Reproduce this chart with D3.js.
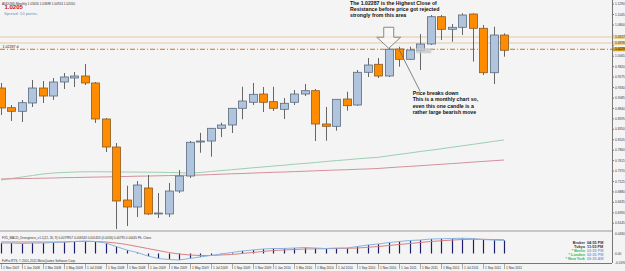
<!DOCTYPE html>
<html><head><meta charset="utf-8">
<script src="https://cdn.jsdelivr.net/npm/d3@7"></script>
<style>
html,body{margin:0;padding:0;background:#f4f4f4;}
svg{display:block;}
text{font-family:"Liberation Sans",Arial,sans-serif;}
</style></head><body>
<svg id="c" width="625" height="271"></svg>
<script>
const months = ["Nov 2007","Dec 2007","Jan 2008","Feb 2008","Mar 2008","Apr 2008","May 2008","Jun 2008","Jul 2008","Aug 2008","Sep 2008","Oct 2008","Nov 2008","Dec 2008",
"Jan 2009","Feb 2009","Mar 2009","Apr 2009","May 2009","Jun 2009","Jul 2009","Aug 2009","Sep 2009","Oct 2009","Nov 2009","Dec 2009",
"Jan 2010","Feb 2010","Mar 2010","Apr 2010","May 2010","Jun 2010","Jul 2010","Aug 2010","Sep 2010","Oct 2010","Nov 2010","Dec 2010",
"Jan 2011","Feb 2011","Mar 2011","Apr 2011","May 2011","Jun 2011","Jul 2011","Aug 2011","Sep 2011","Oct 2011","Nov 2011"];
const openP  = [0.9319,0.8857,0.8772,0.8967,0.9319,0.9131,0.9460,0.9554,0.9601,0.9437,0.8592,0.7934,0.6690,0.6526,0.6972,0.6362,0.6362,0.6901,0.7253,0.8052,0.8075,0.8373,0.8451,0.8843,0.8984,0.9178,0.8998,0.8819,0.8984,0.9178,0.9256,0.8474,0.8420,0.9061,0.8920,0.9688,0.9876,0.9601,1.0235,0.9993,1.0195,1.0352,1.0993,1.0697,1.0744,1.1056,1.0721,0.9678,1.0563];
const highP  = [0.9437,0.8920,0.9038,0.9507,0.9484,0.9554,0.9671,0.9695,0.9883,0.9460,0.8615,0.8028,0.7024,0.7136,0.7277,0.6854,0.7089,0.7394,0.8075,0.8266,0.8380,0.8505,0.8850,0.9350,0.9437,0.9343,0.9350,0.9085,0.9272,0.9413,0.9296,0.8873,0.9061,0.9232,0.9742,1.0023,1.0023,1.0258,1.0289,1.0289,1.0587,1.1033,1.1033,1.0822,1.1073,1.1073,1.0798,1.0758,1.0603];
const lowP   = [0.8685,0.8545,0.8521,0.8873,0.8967,0.9038,0.9296,0.9343,0.9390,0.8498,0.7817,0.6008,0.6080,0.6291,0.6340,0.6268,0.6291,0.6854,0.7207,0.7800,0.7707,0.8167,0.8263,0.8585,0.8920,0.8756,0.8779,0.8592,0.8920,0.9131,0.8075,0.8082,0.8317,0.8787,0.8900,0.9578,0.9554,0.9578,0.9819,0.9977,0.9742,1.0329,1.0446,1.0406,1.0563,0.9937,0.9624,0.9413,1.0054];
const closeP = [0.8850,0.8772,0.8974,0.9319,0.9131,0.9460,0.9578,0.9601,0.9437,0.8592,0.7934,0.6667,0.6526,0.7042,0.6362,0.6385,0.6901,0.7253,0.8045,0.8075,0.8373,0.8451,0.8843,0.9014,0.9171,0.8984,0.8843,0.8960,0.9178,0.9256,0.8474,0.8420,0.9054,0.8904,0.9688,0.9859,0.9601,1.0229,0.9993,1.0211,1.0352,1.0993,1.0697,1.0744,1.1033,1.0721,0.9678,1.0563,1.0205];
const maGreen = [0.7160,0.7195,0.7230,0.7265,0.7300,0.7324,0.7336,0.7347,0.7352,0.7354,0.7352,0.7350,0.7347,0.7345,0.7343,0.7341,0.7336,0.7331,0.7324,0.7336,0.7359,0.7380,0.7401,0.7423,0.7446,0.7465,0.7488,0.7507,0.7531,0.7549,0.7570,0.7594,0.7615,0.7634,0.7657,0.7676,0.7692,0.7728,0.7761,0.7793,0.7829,0.7859,0.7892,0.7927,0.7962,0.7995,0.8031,0.8066,0.8099];
const maRed = [0.7183,0.7188,0.7193,0.7197,0.7202,0.7207,0.7214,0.7218,0.7223,0.7228,0.7232,0.7237,0.7242,0.7249,0.7253,0.7258,0.7263,0.7268,0.7272,0.7277,0.7286,0.7296,0.7305,0.7312,0.7322,0.7331,0.7341,0.7347,0.7357,0.7366,0.7376,0.7385,0.7394,0.7401,0.7411,0.7420,0.7430,0.7448,0.7465,0.7479,0.7495,0.7512,0.7528,0.7545,0.7561,0.7580,0.7596,0.7613,0.7629];
const macdMain = [0.0210,0.0210,0.0200,0.0210,0.0210,0.0220,0.0230,0.0240,0.0250,0.0240,0.0210,0.0140,0.0070,0.0020,-0.0050,-0.0100,-0.0120,-0.0130,-0.0100,-0.0070,-0.0040,-0.0010,0.0020,0.0050,0.0070,0.0090,0.0100,0.0100,0.0110,0.0120,0.0110,0.0100,0.0110,0.0110,0.0140,0.0170,0.0190,0.0220,0.0240,0.0260,0.0270,0.0290,0.0295,0.0300,0.0305,0.0300,0.0280,0.0270,0.0260];
const macdSignal = [0.0230,0.0230,0.0230,0.0230,0.0230,0.0230,0.0230,0.0240,0.0240,0.0240,0.0230,0.0210,0.0180,0.0140,0.0100,0.0060,0.0020,-0.0010,-0.0030,-0.0040,-0.0040,-0.0030,-0.0020,0.0000,0.0020,0.0040,0.0060,0.0070,0.0080,0.0090,0.0094,0.0096,0.0100,0.0104,0.0110,0.0124,0.0140,0.0160,0.0180,0.0200,0.0220,0.0240,0.0255,0.0268,0.0280,0.0285,0.0284,0.0280,0.0275];
const priceTicks = [1.1290,1.1045,1.0800,1.0555,1.0310,1.0065,0.9820,0.9575,0.9330,0.9085,0.8840,0.8595,0.8350,0.8105,0.7860,0.7615,0.7370,0.7125,0.6880,0.6635,0.6390,0.6145];
const levelLines = [1.0517,1.0376];
const resistance = 1.02287;
const macdTicks = [0.0430,0.0000,-0.0190];
const clockRows = [["Broker","04:55 PM"],["Tokyo","11:55 PM"],["* Berlin","03:55 PM"],["* London","02:55 PM"],["* New York","09:55 AM"]];

const svg = d3.select("#c");
const W=625, axisX=612, mainBottom=230, macdTop=232, macdBottom=263;
svg.append("rect").attr("width",W).attr("height",271).attr("fill","#f4f4f4");

const x = d3.scalePoint().domain(months).range([1,504]);
const y = d3.scaleLinear().domain([0.5986,1.1385]).range([mainBottom,0]);
const ym = d3.scaleLinear().domain([-0.019,0.043]).range([macdBottom,macdTop]);

const main = svg.append("g");
levelLines.forEach(v=>{
  main.append("line").attr("x1",0).attr("x2",axisX).attr("y1",y(v)).attr("y2",y(v)).attr("stroke","#e2c9a2").attr("stroke-width",1);
});
main.append("line").attr("x1",0).attr("x2",axisX).attr("y1",y(resistance)).attr("y2",y(resistance))
  .attr("stroke","#c07a1a").attr("stroke-width",1.2).attr("stroke-dasharray","5,2,1,2");

const ln = arr => d3.line().x((d,i)=>x(months[i])).y(d=>y(d))(arr);
main.append("path").attr("d",ln(maGreen)).attr("fill","none").attr("stroke","#9ccfb2").attr("stroke-width",1);
main.append("path").attr("d",ln(maRed)).attr("fill","none").attr("stroke","#d4909c").attr("stroke-width",1);

const cg = main.append("g");
months.forEach((m,i)=>{
  const cx = Math.round(x(m))+0.5;
  cg.append("line").attr("x1",cx).attr("x2",cx).attr("y1",y(highP[i])).attr("y2",Math.min(y(lowP[i]),mainBottom)).attr("stroke","#666").attr("stroke-width",1);
  const top = y(Math.max(openP[i],closeP[i])), bot = y(Math.min(openP[i],closeP[i]));
  const up = closeP[i]>=openP[i];
  cg.append("rect").attr("x",cx-4).attr("y",top).attr("width",8).attr("height",Math.max(bot-top,1))
    .attr("fill",up?"#b0c4de":"#ff8c00").attr("stroke",up?"#5b6a7e":"#8a5a20").attr("stroke-width",0.8);
});

main.append("rect").attr("x",x("Mar 2011")-4).attr("y",y(resistance)-1).attr("width",15).attr("height",5).attr("fill","#c8c8c8").attr("opacity",0.8);

const tx = x("Dec 2010"), ty = y(resistance)-1;
const arrowPts = [[tx-5,ty-21],[tx+5,ty-21],[tx+5,ty-11],[tx+12,ty-11],[tx,ty],[tx-12,ty-11],[tx-5,ty-11]];
main.append("polygon").attr("points",arrowPts.map(p=>p.join(",")).join(" ")).attr("fill","#f8f8f8").attr("fill-opacity",0.6).attr("stroke","#8a8a8a").attr("stroke-width",1);

const ann1 = ["The 1.02287 is the Highest Close of","Resistance before price got rejected","strongly from this area"];
ann1.forEach((t,i)=>svg.append("text").attr("x",350).attr("y",5.2+i*6).text(t).attr("font-size",5.2).attr("font-weight","bold").attr("fill","#111"));
main.append("line").attr("x1",x("Jan 2011")).attr("y1",y(openP[38])+1).attr("x2",420).attr("y2",91).attr("stroke","#666").attr("stroke-width",0.8);
const ann2 = ["Price breaks down","This is a monthly chart so,","even this one candle is a","rather large bearish move"];
ann2.forEach((t,i)=>svg.append("text").attr("x",412.7).attr("y",95.3+i*6.1).text(t).attr("font-size",5.2).attr("font-weight","bold").attr("fill","#111"));

svg.append("text").attr("x",2).attr("y",4.5).text("AUDUSD,Monthly  1.03416 1.03698 1.00924 1.02050").attr("font-size",3.1).attr("fill","#333");
svg.append("text").attr("x",4.5).attr("y",9.2).text("1.0205").attr("font-size",6).attr("font-weight","bold").attr("fill","#cc1111");
svg.append("text").attr("x",4).attr("y",14.8).text("Spread: 10 points.").attr("font-size",4.2).attr("fill","#6a95bb");
svg.append("text").attr("x",2.5).attr("y",y(resistance)-1.6).text("1.02287 d").attr("font-size",3.6).attr("fill","#222");

// right price axis
svg.append("line").attr("x1",axisX+0.5).attr("x2",axisX+0.5).attr("y1",0).attr("y2",macdBottom).attr("stroke","#777");
const tags = [[levelLines[0],"#ecd08a","#333"],[levelLines[1],"#ecd08a","#333"],[resistance,"#d49a2a","#111"]];
priceTicks.forEach(v=>{
  svg.append("line").attr("x1",axisX).attr("x2",axisX+2).attr("y1",y(v)).attr("y2",y(v)).attr("stroke","#777");
  if (tags.some(t=>Math.abs(y(t[0])-y(v))<4.5)) return;
  svg.append("text").attr("x",axisX+3).attr("y",y(v)+1.1).text(v.toFixed(4)).attr("font-size",3.2).attr("fill","#333");
});
tags.forEach(([v,bg,fg])=>{
  svg.append("rect").attr("x",axisX+1).attr("y",y(v)-2).attr("width",12).attr("height",4).attr("fill",bg);
  svg.append("text").attr("x",axisX+3).attr("y",y(v)+1.1).text(v.toFixed(4)).attr("font-size",3.2).attr("fill",fg);
});

svg.append("line").attr("x1",0).attr("x2",axisX).attr("y1",mainBottom+1).attr("y2",mainBottom+1).attr("stroke","#999");

// MACD pane
const mg = svg.append("g");
months.forEach((m,i)=>{
  const cx = Math.round(x(m))+0.5;
  mg.append("line").attr("x1",cx).attr("x2",cx).attr("y1",ym(0)).attr("y2",ym(macdMain[i])).attr("stroke","#1d1f6e").attr("stroke-width",1.2);
});
const lm = arr => d3.line().x((d,i)=>x(months[i])).y(d=>ym(d))(arr);
mg.append("path").attr("d",lm(macdSignal)).attr("fill","none").attr("stroke","#d98080").attr("stroke-width",1);
mg.append("path").attr("d",lm(macdMain)).attr("fill","none").attr("stroke","#8ab4e0").attr("stroke-width",1);
svg.append("text").attr("x",2).attr("y",238.5).text("FX5_MACD_Divergence_v1.1(12, 26, 9) 0.0079957 0.006543 0.001453 (0.0056) 0.00795 0.00445  Pk. Close").attr("font-size",3.1).attr("fill","#333");
svg.append("text").attr("x",2).attr("y",262).text("FxPro RTS, © 2001-2011 MetaQuotes Software Corp.").attr("font-size",3.1).attr("fill","#333");
macdTicks.forEach(v=>{
  const yy = Math.min(Math.max(ym(v),macdTop+1.5),macdBottom+4);
  svg.append("text").attr("x",axisX+3).attr("y",yy+1.1).text(v===0?"0.00":v.toFixed(4)).attr("font-size",3.2).attr("fill","#333");
});
clockRows.forEach((r,i)=>{
  const yy = 243.7+i*4;
  const grn = r[0].startsWith("*");
  svg.append("text").attr("x",585).attr("y",yy).attr("text-anchor","end").text(r[0]).attr("font-size",3.8).attr("font-weight","bold").attr("fill",grn?"#3cb84a":"#333");
  svg.append("text").attr("x",587).attr("y",yy).text(r[1]).attr("font-size",3.8).attr("font-weight","bold").attr("fill",grn?"#7aa6d8":"#333");
});

// time axis
svg.append("line").attr("x1",0).attr("x2",axisX).attr("y1",macdBottom+0.5).attr("y2",macdBottom+0.5).attr("stroke","#777");
months.forEach((m,i)=>{
  if(i%2!==0) return;
  const cx = Math.round(x(m))+0.5;
  svg.append("line").attr("x1",cx).attr("x2",cx).attr("y1",macdBottom).attr("y2",macdBottom+6).attr("stroke","#777").attr("stroke-width",0.6);
  svg.append("text").attr("x",cx+1.5).attr("y",268.8).text("1 "+m).attr("font-size",3.2).attr("fill","#333");
});
</script></body></html>
